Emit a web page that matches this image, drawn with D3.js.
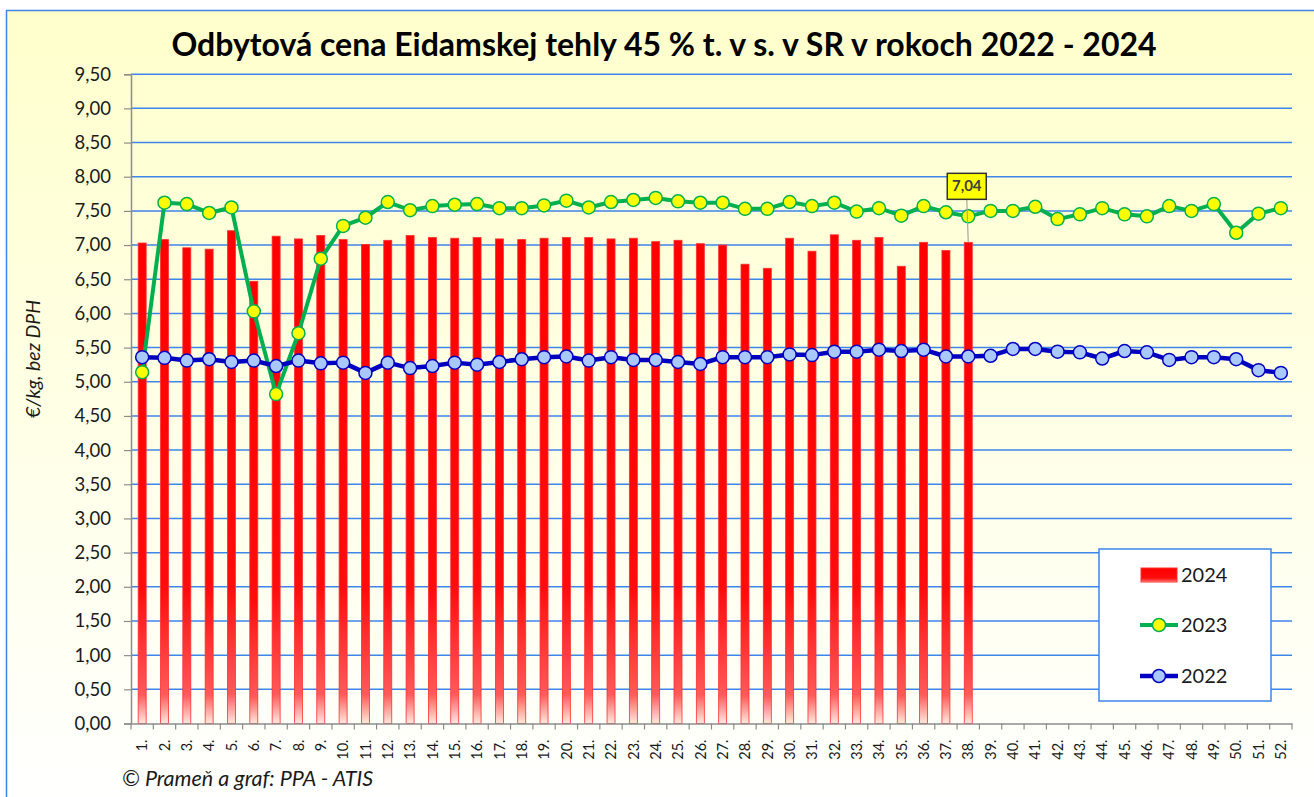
<!DOCTYPE html>
<html>
<head>
<meta charset="utf-8">
<script src="https://cdn.jsdelivr.net/npm/d3@7"></script>
<style>
  body { margin: 0; background: #fff; }
  svg { display: block; font-family: Lato, "Open Sans", sans-serif; }
</style>
</head>
<body>
<svg id="chart" width="1314" height="797"></svg>
<script>
// weeks of the year
const weeks = ["1.","2.","3.","4.","5.","6.","7.","8.","9.","10.","11.","12.","13.",
  "14.","15.","16.","17.","18.","19.","20.","21.","22.","23.","24.","25.","26.",
  "27.","28.","29.","30.","31.","32.","33.","34.","35.","36.","37.","38.","39.",
  "40.","41.","42.","43.","44.","45.","46.","47.","48.","49.","50.","51.","52."];

const yTicks = [0,0.5,1,1.5,2,2.5,3,3.5,4,4.5,5,5.5,6,6.5,7,7.5,8,8.5,9,9.5];

// 2024 - bars (only weeks 1..38 known)
const price2024 = [7.03,7.08,6.96,6.94,7.21,6.47,7.13,7.09,7.14,7.08,7.01,7.07,7.14,
  7.11,7.10,7.11,7.09,7.08,7.10,7.11,7.11,7.09,7.10,7.05,7.07,7.02,7.00,6.72,6.66,
  7.10,6.91,7.15,7.07,7.11,6.69,7.04,6.92,7.04];

// 2023 - green line
const price2023 = [5.14,7.62,7.60,7.47,7.55,6.03,4.82,5.71,6.80,7.28,7.40,7.63,7.51,
  7.57,7.59,7.60,7.54,7.54,7.58,7.65,7.55,7.63,7.66,7.69,7.64,7.62,7.62,7.53,7.53,
  7.63,7.57,7.62,7.49,7.54,7.43,7.57,7.48,7.42,7.50,7.50,7.56,7.38,7.45,7.54,7.45,
  7.42,7.57,7.50,7.60,7.18,7.46,7.54];

// 2022 - blue line
const price2022 = [5.36,5.35,5.31,5.33,5.29,5.31,5.23,5.31,5.27,5.28,5.13,5.28,5.20,
  5.23,5.28,5.25,5.29,5.33,5.36,5.37,5.31,5.36,5.32,5.32,5.29,5.26,5.36,5.36,5.36,
  5.40,5.39,5.44,5.44,5.47,5.45,5.47,5.37,5.37,5.38,5.48,5.48,5.44,5.43,5.34,5.45,
  5.43,5.32,5.36,5.36,5.33,5.17,5.13];

const titleText = "Odbytová cena Eidamskej tehly 45 % t. v s. v SR v rokoch 2022 - 2024";

const svg = d3.select("#chart");
const defs = svg.append("defs");

// backgrounds
const bgGrad = defs.append("linearGradient").attr("id","bg")
  .attr("x1",0).attr("y1",0).attr("x2",0).attr("y2",1);
bgGrad.append("stop").attr("offset","0%").attr("stop-color","#ffffcc");
bgGrad.append("stop").attr("offset","100%").attr("stop-color","#ffffff");

const barGrad = defs.append("linearGradient").attr("id","barfill")
  .attr("x1",0).attr("y1",0).attr("x2",0).attr("y2",1);
barGrad.append("stop").attr("offset","0%").attr("stop-color","#ff0000");
barGrad.append("stop").attr("offset","72%").attr("stop-color","#ff0c0c");
barGrad.append("stop").attr("offset","94%").attr("stop-color","#ff5a5a");
barGrad.append("stop").attr("offset","100%").attr("stop-color","#ffe8dd");

svg.append("rect")
  .attr("x",6.5).attr("y",10.5).attr("width",1320).attr("height",800)
  .attr("fill","url(#bg)").attr("stroke","#3d85e8").attr("stroke-width",1.5);

const plotL = 131, plotR = 1292, plotT = 74.2, plotB = 723.5;

const x = d3.scaleBand().domain(weeks).range([plotL,plotR]);
const y = d3.scaleLinear().domain([0,9.5]).range([plotB,plotT]);
const cx = w => x(w) + x.bandwidth()/2;
const fmt = v => d3.format(".2f")(v).replace(".",",");

// gridlines
svg.append("g").selectAll("line")
  .data(yTicks.filter(d => d > 0))
  .join("line")
  .attr("x1",plotL).attr("x2",plotR)
  .attr("y1",d => y(d)).attr("y2",d => y(d))
  .attr("stroke","#3d85e8").attr("stroke-width",1.5);

// bars 2024
const barW = 8;
svg.append("g").selectAll("rect")
  .data(price2024)
  .join("rect")
  .attr("x",(d,i) => cx(weeks[i]) - barW/2)
  .attr("y",d => y(d))
  .attr("width",barW)
  .attr("height",d => plotB - y(d))
  .attr("fill","url(#barfill)")
  .attr("stroke","#ff3030").attr("stroke-width",0.8);

// y axis
const yAxis = svg.append("g")
  .attr("transform",`translate(${plotL},0)`)
  .call(d3.axisLeft(y).tickValues(yTicks).tickSize(7).tickPadding(13).tickFormat(fmt));
yAxis.select(".domain").attr("stroke","#8c8c8c").attr("stroke-width",1.5);
yAxis.selectAll(".tick line").attr("stroke","#8c8c8c").attr("stroke-width",1.2);
yAxis.selectAll("text").attr("font-size","18.5px").attr("fill","#1a1a1a")
  .attr("font-family","Lato, sans-serif");

// x axis
const xAxis = svg.append("g")
  .attr("transform",`translate(0,${plotB})`)
  .call(d3.axisBottom(x).tickSize(0).tickSizeOuter(0));
xAxis.select(".domain").attr("stroke","#8c8c8c").attr("stroke-width",1.5);
xAxis.selectAll(".tick text")
  .attr("transform","rotate(-90)")
  .attr("x",-16).attr("y",0).attr("dy","0.36em")
  .attr("text-anchor","end")
  .attr("font-size","14.5px").attr("fill","#1a1a1a")
  .attr("font-family","Lato, sans-serif");
// tick marks at band boundaries
svg.append("g").selectAll("line")
  .data(weeks.concat(["end"]))
  .join("line")
  .attr("x1",(d,i) => i < weeks.length ? x(d) : plotR)
  .attr("x2",(d,i) => i < weeks.length ? x(d) : plotR)
  .attr("y1",plotB).attr("y2",plotB + 6)
  .attr("stroke","#8c8c8c").attr("stroke-width",1.2);

// lines
const line = d3.line()
  .x((d,i) => cx(weeks[i]))
  .y(d => y(d));

function drawSeries(data, stroke, width, fill) {
  const g = svg.append("g");
  g.append("path").datum(data)
    .attr("d",line).attr("fill","none")
    .attr("stroke",stroke).attr("stroke-width",width)
    .attr("stroke-linejoin","round");
  g.selectAll("circle").data(data).join("circle")
    .attr("cx",(d,i) => cx(weeks[i]))
    .attr("cy",d => y(d))
    .attr("r",6.5)
    .attr("fill",fill).attr("stroke",stroke).attr("stroke-width",1.5);
}
drawSeries(price2023, "#00b050", 4, "#ffff00");
drawSeries(price2022, "#0000c0", 4.5, "#a9c8ff");

// data label for last 2024 bar
const lastI = price2024.length - 1;
const lx = cx(weeks[lastI]), ly = y(price2024[lastI]);
svg.append("line")
  .attr("x1",lx - 1.5).attr("x2",lx)
  .attr("y1",ly - 43).attr("y2",ly)
  .attr("stroke","#a6a6a6").attr("stroke-width",1.2);
svg.append("rect")
  .attr("x",lx - 21).attr("y",ly - 69).attr("width",39).attr("height",26)
  .attr("fill","#ffff00").attr("stroke","#333").attr("stroke-width",1.5);
svg.append("text")
  .attr("x",lx - 1.5).attr("y",ly - 51)
  .attr("text-anchor","middle")
  .attr("font-size","15px").attr("font-weight","bold").attr("fill","#404040")
  .text(fmt(price2024[lastI]));

// title
svg.append("text")
  .attr("x",664).attr("y",56)
  .attr("text-anchor","middle")
  .attr("font-size","32px").attr("font-weight","bold").attr("fill","#000")
  .text(titleText);

// y axis title
svg.append("text")
  .attr("transform","translate(40,359) rotate(-90)")
  .attr("text-anchor","middle")
  .attr("font-size","19.5px").attr("font-style","italic").attr("fill","#1a1a1a")
  .text("€/kg, bez DPH");

// footer
svg.append("text")
  .attr("x",122).attr("y",786)
  .attr("font-size","21.5px").attr("font-style","italic").attr("fill","#1a1a1a")
  .text("© Prameň a graf: PPA - ATIS");

// legend
const lg = svg.append("g");
lg.append("rect")
  .attr("x",1099).attr("y",549).attr("width",172).attr("height",152)
  .attr("fill","#fff").attr("stroke","#3d85e8").attr("stroke-width",1.5);
const legendItems = [
  {name:"2024", type:"bar", y:575},
  {name:"2023", type:"line", y:625, stroke:"#00b050", fill:"#ffff00", w:4},
  {name:"2022", type:"line", y:676, stroke:"#0000c0", fill:"#a9c8ff", w:4.5}
];
legendItems.forEach(d => {
  if (d.type === "bar") {
    lg.append("rect").attr("x",1141).attr("y",d.y - 7).attr("width",36).attr("height",14)
      .attr("fill","url(#barfill)").attr("stroke","#ff3030").attr("stroke-width",1);
  } else {
    lg.append("line").attr("x1",1140).attr("x2",1178).attr("y1",d.y).attr("y2",d.y)
      .attr("stroke",d.stroke).attr("stroke-width",d.w);
    lg.append("circle").attr("cx",1159).attr("cy",d.y).attr("r",6.5)
      .attr("fill",d.fill).attr("stroke",d.stroke).attr("stroke-width",1.5);
  }
  lg.append("text").attr("x",1181).attr("y",d.y).attr("dy","0.36em")
    .attr("font-size","20px").attr("fill","#1a1a1a")
    .text(d.name);
});
</script>
</body>
</html>
